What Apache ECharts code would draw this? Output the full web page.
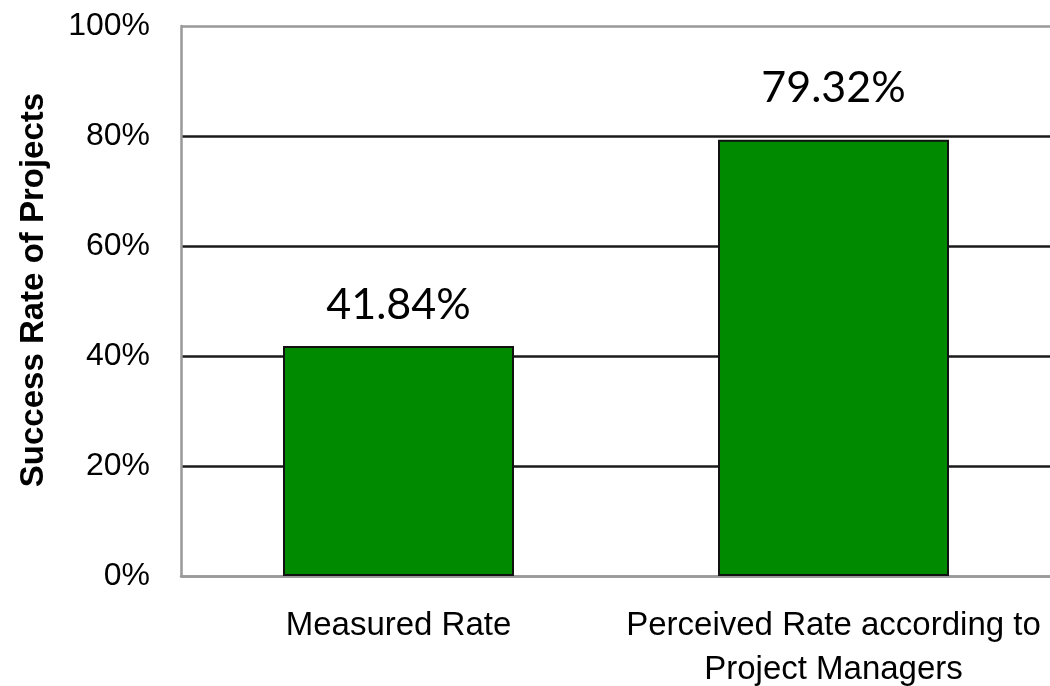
<!DOCTYPE html>
<html>
<head>
<meta charset="utf-8">
<script src="https://cdn.jsdelivr.net/npm/echarts@6/dist/echarts.min.js"></script>
<style>
  html, body { margin: 0; padding: 0; background: #ffffff; }
  #chart { width: 1050px; height: 686px; }
</style>
</head>
<body>
<div id="chart"></div>
<script>
// Project success rates: measured vs. what project managers perceive
const categories = ['Measured Rate', 'Perceived Rate according to\nProject Managers'];
const successRates = [41.84, 79.32];
const axisTitle = 'Success Rate of Projects';

// vertical nudge for each value label (pixels)
const labelNudge = [1, -10];

const chart = echarts.init(document.getElementById('chart'), null, { renderer: 'canvas' });

const gray = '#999999';
const dark = '#1a1a1a';

chart.setOption({
  animation: false,
  backgroundColor: '#ffffff',
  grid: { left: 181, top: 26, width: 870, height: 550, outerBoundsMode: 'none', containLabel: false },
  xAxis: {
    type: 'category',
    data: categories,
    axisLine: { show: true, lineStyle: { color: gray, width: 2.5 } },
    axisTick: { show: false },
    axisLabel: {
      color: '#000000',
      fontFamily: 'Liberation Sans, Arial, sans-serif',
      fontSize: 33,
      lineHeight: 44,
      margin: 28,
      interval: 0
    },
    splitLine: { show: false }
  },
  yAxis: {
    type: 'value',
    min: 0,
    max: 100,
    interval: 20,
    name: axisTitle,
    nameLocation: 'middle',
    nameRotate: 90,
    nameGap: 131,
    nameTextStyle: {
      color: '#000000',
      fontFamily: 'Liberation Sans, Arial, sans-serif',
      fontWeight: 'bold',
      fontSize: 33,
      padding: [0, 0, 0, 22]
    },
    axisLine: { show: true, lineStyle: { color: gray, width: 2.5 } },
    axisTick: { show: false },
    axisLabel: {
      color: '#000000',
      fontFamily: 'Liberation Sans, Arial, sans-serif',
      fontSize: 32,
      margin: 31,
      padding: [0, 0, 6, 0],
      formatter: v => v + '%'
    },
    splitLine: {
      show: true,
      lineStyle: { color: [gray, dark, dark, dark, dark, gray], width: 2.5 }
    }
  },
  series: [{
    type: 'bar',
    barWidth: 231,
    data: successRates.map((v, i) => ({
      value: v,
      label: { offset: [0, labelNudge[i]] }
    })),
    itemStyle: { color: '#008a00', borderColor: '#111111', borderWidth: 2 },
    label: {
      show: true,
      position: 'top',
      distance: 20,
      color: '#000000',
      fontFamily: 'Lato, "Open Sans", sans-serif',
      fontSize: 43,
      formatter: p => p.value.toFixed(2) + '%'
    }
  }]
});
</script>
</body>
</html>
